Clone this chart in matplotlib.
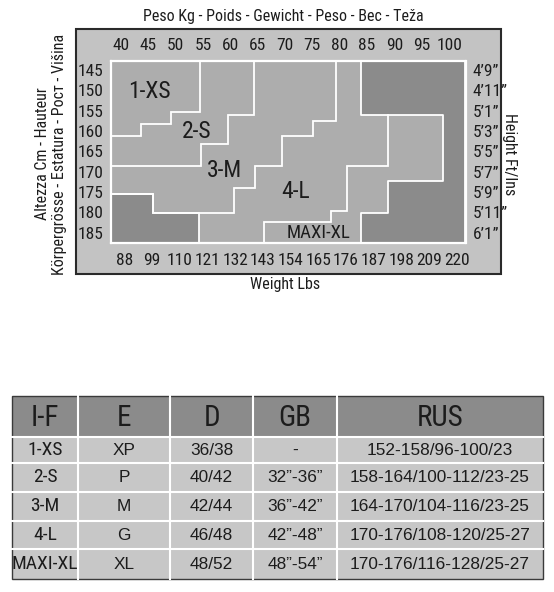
import os
import numpy as np
import matplotlib
matplotlib.use('Agg')
import matplotlib.pyplot as plt
import matplotlib.font_manager as fm
from matplotlib.patches import Rectangle

# Size chart: weight (kg / lbs) against height (cm / ft-in)
kg_ticks = [40, 45, 50, 55, 60, 65, 70, 75, 80, 85, 90, 95, 100]
lbs_ticks = [88, 99, 110, 121, 132, 143, 154, 165, 176, 187, 198, 209, 220]
cm_ticks = [145, 150, 155, 160, 165, 170, 175, 180, 185]
ft_labels = ['4’9”', '4’11”', '5’1”', '5’3”', '5’5”', '5’7”', '5’9”', '5’11”', '6’1”']

# grid extent (kg, cm)
kg_range = [38.1, 103.0]
cm_range = [142.8, 187.5]

# size boundaries (kg, cm)
xs_kg = [54.5, 54.5, 49.15, 49.15, 43.6, 43.6, 38.1]
xs_cm = [142.8, 155.4, 155.4, 158.3, 158.3, 161.2, 161.2]
s_kg = [64.4, 64.4, 59.5, 59.5, 54.6, 54.6, 38.1]
s_cm = [142.8, 156.1, 156.1, 163.3, 163.3, 168.6, 168.6]
m_kg = [38.1, 45.8, 45.8, 60.7, 60.7, 64.5, 64.5, 69.4, 69.4, 75.1, 75.1, 79.3, 79.3]
m_cm = [175.5, 175.5, 180.1, 180.1, 174.1, 174.1, 168.5, 168.5, 161.1, 161.1, 157.5, 157.5, 142.8]
l_kg = [88.8, 88.8, 81.3, 81.3, 78.5, 78.5, 66.2, 66.2]
l_cm = [156.1, 168.5, 168.5, 179.6, 179.6, 182.3, 182.3, 187.5]

# out of range areas (dark)
dark1_kg = [38.1, 45.8, 45.8, 54.3, 54.3, 38.1]
dark1_cm = [175.5, 175.5, 180.1, 180.1, 187.5, 187.5]
dark2_kg = [83.9, 103.0, 103.0, 83.9, 83.9, 88.8, 88.8, 98.8, 98.8, 83.9]
dark2_cm = [142.8, 142.8, 187.5, 187.5, 180.2, 180.2, 172.2, 172.2, 156.1, 156.1]

size_names = ['1-XS', '2-S', '3-M', '4-L', 'MAXI-XL']
name_kg = [45.2, 53.85, 59.0, 72.0, 76.1]
name_cm = [150.3, 160.2, 169.6, 174.9, 185.0]

# table
headers = ['I-F', 'E', 'D', 'GB', 'RUS']
col_if = ['1-XS', '2-S', '3-M', '4-L', 'MAXI-XL']
col_e = ['XP', 'P', 'M', 'G', 'XL']
col_d = ['36/38', '40/42', '42/44', '46/48', '48/52']
col_gb = ['-', '32”-36”', '36”-42”', '42”-48”', '48”-54”']
col_rus = ['152-158/96-100/23', '158-164/100-112/23-25', '164-170/104-116/23-25',
           '170-176/108-120/25-27', '170-176/116-128/25-27']


# look for a narrow / condensed face, the original uses one
def find_narrow():
    files = [f.fname for f in fm.fontManager.ttflist]
    prefs = ['liberationsansnarrow-regular', 'robotocondensed-regular', 'dejavusanscondensed.ttf',
             'opensans_condensed-regular', 'opensans-condensedregular', 'notosans-condensed.ttf']
    for p in prefs:
        for f in files:
            if p in os.path.basename(f).lower():
                return f
    skip = ['bold', 'italic', 'oblique', 'light', 'thin', 'medium', 'black', 'semi', 'extra']
    for f in files:
        b = os.path.basename(f).lower()
        if ('narrow' in b or 'condensed' in b) and not any(s in b for s in skip):
            return f
    return None


NARROW_FILE = find_narrow()


def nfont(size):
    if NARROW_FILE:
        return fm.FontProperties(fname=NARROW_FILE, size=size)
    return fm.FontProperties(family='DejaVu Sans', size=size * 0.82)


def rfont(size):
    return fm.FontProperties(family=['Liberation Sans', 'DejaVu Sans'], size=size)


TXT = '#1c1c1c'
LIGHT = '#adadad'
DARK = '#8b8b8b'

W, H = 554, 592
fig = plt.figure(figsize=(W / 100, H / 100), dpi=100)
fig.patch.set_facecolor('white')

# background axes in pixel units for frame, titles and table
bg = fig.add_axes([0, 0, 1, 1], zorder=-1)
bg.set_xlim(0, W)
bg.set_ylim(H, 0)
bg.axis('off')

bg.add_patch(Rectangle((75.7, 29.3), 424.8, 244.7, fc='#c3c3c3', ec='#2a2a2a', lw=1.5))
bg.text(283.7, 16.5, 'Peso Kg - Poids - Gewicht - Peso - Вес - Teža', ha='center', va='center',
        fontproperties=nfont(11.5), color=TXT)
bg.text(284.7, 284, 'Weight Lbs', ha='center', va='center', fontproperties=nfont(11.5), color=TXT)
bg.text(51, 154, 'Altezza Cm - Hauteur\nKörpergrösse - Estatura - Рост - Višina', ha='center', va='center',
        rotation=90, fontproperties=nfont(11.5), color=TXT, linespacing=1.15)
bg.text(510, 154, 'Height Ft/Ins', ha='center', va='center', rotation=-90,
        fontproperties=nfont(11.5), color=TXT)

# chart grid
ax = fig.add_axes([110.5 / W, 1 - 243 / H, 355 / W, 182 / H])
ax.set_facecolor(LIGHT)
ax.set_xlim(kg_range)
ax.set_ylim(cm_range[1], cm_range[0])
ax.fill(dark1_kg, dark1_cm, color=DARK, lw=0)
ax.fill(dark2_kg, dark2_cm, color=DARK, lw=0)
for xs, ys in [(xs_kg, xs_cm), (s_kg, s_cm), (m_kg, m_cm), (l_kg, l_cm)]:
    ax.plot(xs, ys, color='white', lw=1.3, solid_joinstyle='miter')
ax.plot(dark1_kg, dark1_cm, color='white', lw=1.3)
ax.plot(dark2_kg + [dark2_kg[0]], dark2_cm + [dark2_cm[0]], color='white', lw=1.3)
for i, name in enumerate(size_names):
    ax.text(name_kg[i], name_cm[i], name, ha='center', va='center',
            fontproperties=nfont(13.5 if name == 'MAXI-XL' else 17), color=TXT)
for sp in ax.spines.values():
    sp.set_color('white')
    sp.set_linewidth(1.6)

ax.xaxis.tick_top()
ax.set_xticks(kg_ticks)
ax.set_xticklabels([str(k) for k in kg_ticks], fontproperties=nfont(12.5), color=TXT)
ax.set_yticks(cm_ticks)
ax.set_yticklabels([str(c) for c in cm_ticks], fontproperties=nfont(12.5), color=TXT)
ax.tick_params(length=0)
ax.tick_params(axis='x', pad=6)
ax.tick_params(axis='y', pad=5)


def kg2lb(k):
    return 88 + (k - 40.6) / 0.4606


def lb2kg(lb):
    return 40.6 + (lb - 88) * 0.4606


secx = ax.secondary_xaxis('bottom', functions=(kg2lb, lb2kg))
secx.set_xticks(lbs_ticks)
secx.set_xticklabels([str(v) for v in lbs_ticks], fontproperties=nfont(12.5), color=TXT)
secx.tick_params(length=0, pad=7)
secx.spines['bottom'].set_visible(False)

secy = ax.secondary_yaxis('right')
secy.set_yticks(cm_ticks)
secy.set_yticklabels(ft_labels, fontproperties=nfont(12.5), color=TXT)
secy.tick_params(length=0, pad=5)
secy.spines['right'].set_visible(False)

# size conversion table
col_x = [11.7, 78.3, 170, 253.3, 336.7, 543.3]
row_y = [396, 437.3, 463.3, 491.7, 520.7, 549.3, 579]
columns = [col_if, col_e, col_d, col_gb, col_rus]

bg.add_patch(Rectangle((col_x[0], row_y[0]), col_x[-1] - col_x[0], row_y[1] - row_y[0],
                       fc=DARK, ec='none'))
bg.add_patch(Rectangle((col_x[0], row_y[1]), col_x[-1] - col_x[0], row_y[-1] - row_y[1],
                       fc='#c7c7c7', ec='none'))
for y in row_y[1:-1]:
    bg.plot([col_x[0], col_x[-1]], [y, y], color='white', lw=1.5)
for x in col_x[1:-1]:
    bg.plot([x, x], [row_y[0], row_y[-1]], color='white', lw=1.5)
bg.add_patch(Rectangle((col_x[0], row_y[0]), col_x[-1] - col_x[0], row_y[-1] - row_y[0],
                       fc='none', ec='#3a3a3a', lw=1.0))

for j, head in enumerate(headers):
    cx = (col_x[j] + col_x[j + 1]) / 2
    bg.text(cx, (row_y[0] + row_y[1]) / 2 + 1, head, ha='center', va='center',
            fontproperties=nfont(21), color=TXT)
    for i, val in enumerate(columns[j]):
        cy = (row_y[i + 1] + row_y[i + 2]) / 2
        fp = nfont(14) if j == 0 else rfont(12.4)
        bg.text(cx, cy, val, ha='center', va='center', fontproperties=fp, color=TXT)

fig.savefig('out.png', dpi=100)
